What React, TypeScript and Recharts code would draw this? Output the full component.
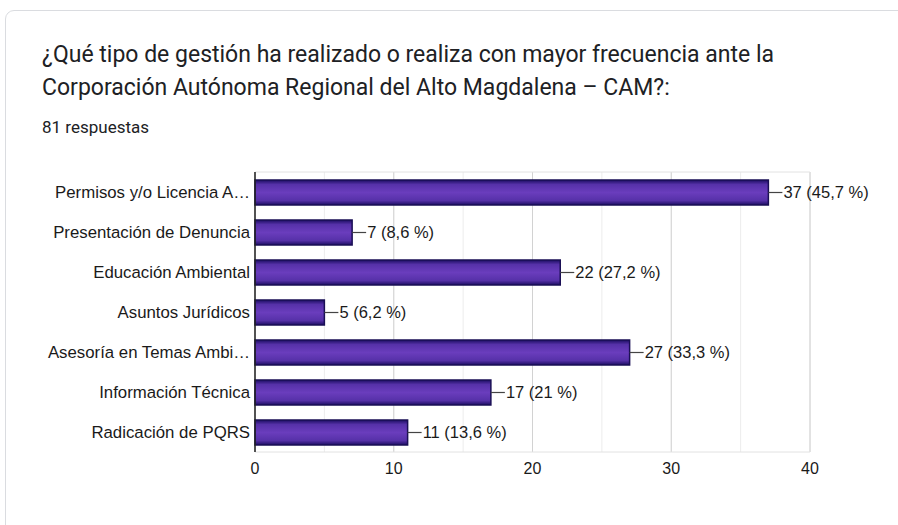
import { BarChart, Bar, XAxis, YAxis, CartesianGrid, ReferenceArea, LabelList } from "recharts";

const categories = [
  "Permisos y/o Licencia A…",
  "Presentación de Denuncia",
  "Educación Ambiental",
  "Asuntos Jurídicos",
  "Asesoría en Temas Ambi…",
  "Información Técnica",
  "Radicación de PQRS",
];
const counts = [37, 7, 22, 5, 27, 17, 11];
const percents = ["45,7", "8,6", "27,2", "6,2", "33,3", "21", "13,6"];
const majorTicks = [0, 10, 20, 30, 40];
const allTicks = [0, 5, 10, 15, 20, 25, 30, 35, 40];
const xMax = 40;

const data = categories.map((name, i) => ({ name, value: counts[i], pct: percents[i] }));

const labelFont = "'Liberation Sans', Arial, sans-serif";

const BarLabel = (props: any) => {
  const { x, y, width, height, index } = props;
  const endX = x + width;
  const midY = y + height / 2;
  const d = data[index];
  return (
    <g>
      <line x1={endX} y1={midY} x2={endX + 14} y2={midY} stroke="#444" strokeWidth={1.2} />
      <text x={endX + 15} y={midY} dy="0.35em" fontSize={16.5} fill="#1a1a1a" fontFamily={labelFont}>
        {`${d.value} (${d.pct} %)`}
      </text>
    </g>
  );
};

// major gridlines (every 10) drawn darker than the minor ones
const majorGrid = ({ offset }: any) =>
  majorTicks.map((t) => offset.left + (offset.width * t) / xMax);

export default function App() {
  return (
    <div style={{ position: "absolute", left: 0, top: 0, width: 898, height: 525, overflow: "hidden", background: "#fff" }}>
      <div
        style={{
          position: "absolute",
          left: 5,
          top: 10,
          width: 1000,
          height: 700,
          border: "1px solid #dadce0",
          borderRadius: 9,
        }}
      />
      <div
        style={{
          position: "absolute",
          left: 42,
          top: 38,
          fontFamily: "Roboto, sans-serif",
          fontSize: 23,
          lineHeight: "33px",
          color: "#202124",
          width: 850,
        }}
      >
        ¿Qué tipo de gestión ha realizado o realiza con mayor frecuencia ante la
        <br />
        Corporación Autónoma Regional del Alto Magdalena – CAM?:
      </div>
      <div
        style={{
          position: "absolute",
          left: 42,
          top: 117,
          fontFamily: "Roboto, sans-serif",
          fontSize: 17,
          color: "#202124",
        }}
      >
        81 respuestas
      </div>
      <div style={{ position: "absolute", left: 0, top: 150 }}>
        <BarChart
          width={898}
          height={350}
          data={data}
          layout="vertical"
          margin={{ top: 22, right: 88, left: 0, bottom: 18 }}
        >
          <defs>
            <linearGradient id="barFill" x1="0" y1="0" x2="0" y2="1">
              <stop offset="0%" stopColor="#1c0d62" />
              <stop offset="18%" stopColor="#5631a8" />
              <stop offset="50%" stopColor="#6a3dbd" />
              <stop offset="82%" stopColor="#5631a8" />
              <stop offset="100%" stopColor="#1c0d62" />
            </linearGradient>
          </defs>
          <CartesianGrid horizontal={false} stroke="#ececec" />
          <CartesianGrid horizontal={false} stroke="#d2d2d2" verticalCoordinatesGenerator={majorGrid} />
          <ReferenceArea x1={0} x2={40} fill="none" stroke="#e2e2e2" fillOpacity={0} />
          <XAxis
            type="number"
            domain={[0, xMax]}
            ticks={allTicks}
            tickFormatter={(v: number) => (v % 10 === 0 ? String(v) : "")}
            axisLine={false}
            tickLine={false}
            tickMargin={5}
            interval={0}
            tick={{ fontSize: 16, fill: "#1a1a1a", fontFamily: labelFont }}
          />
          <YAxis
            type="category"
            dataKey="name"
            width={255}
            tickLine={false}
            tickSize={3}
            tickMargin={2}
            axisLine={{ stroke: "#222", strokeWidth: 1.5 }}
            tick={{ fontSize: 16.8, fill: "#1a1a1a", fontFamily: labelFont }}
            interval={0}
          />
          <Bar
            dataKey="value"
            barSize={25}
            fill="url(#barFill)"
            stroke="#1a0f55"
            strokeWidth={1.5}
            isAnimationActive={false}
          >
            <LabelList dataKey="value" content={BarLabel} />
          </Bar>
        </BarChart>
      </div>
    </div>
  );
}
